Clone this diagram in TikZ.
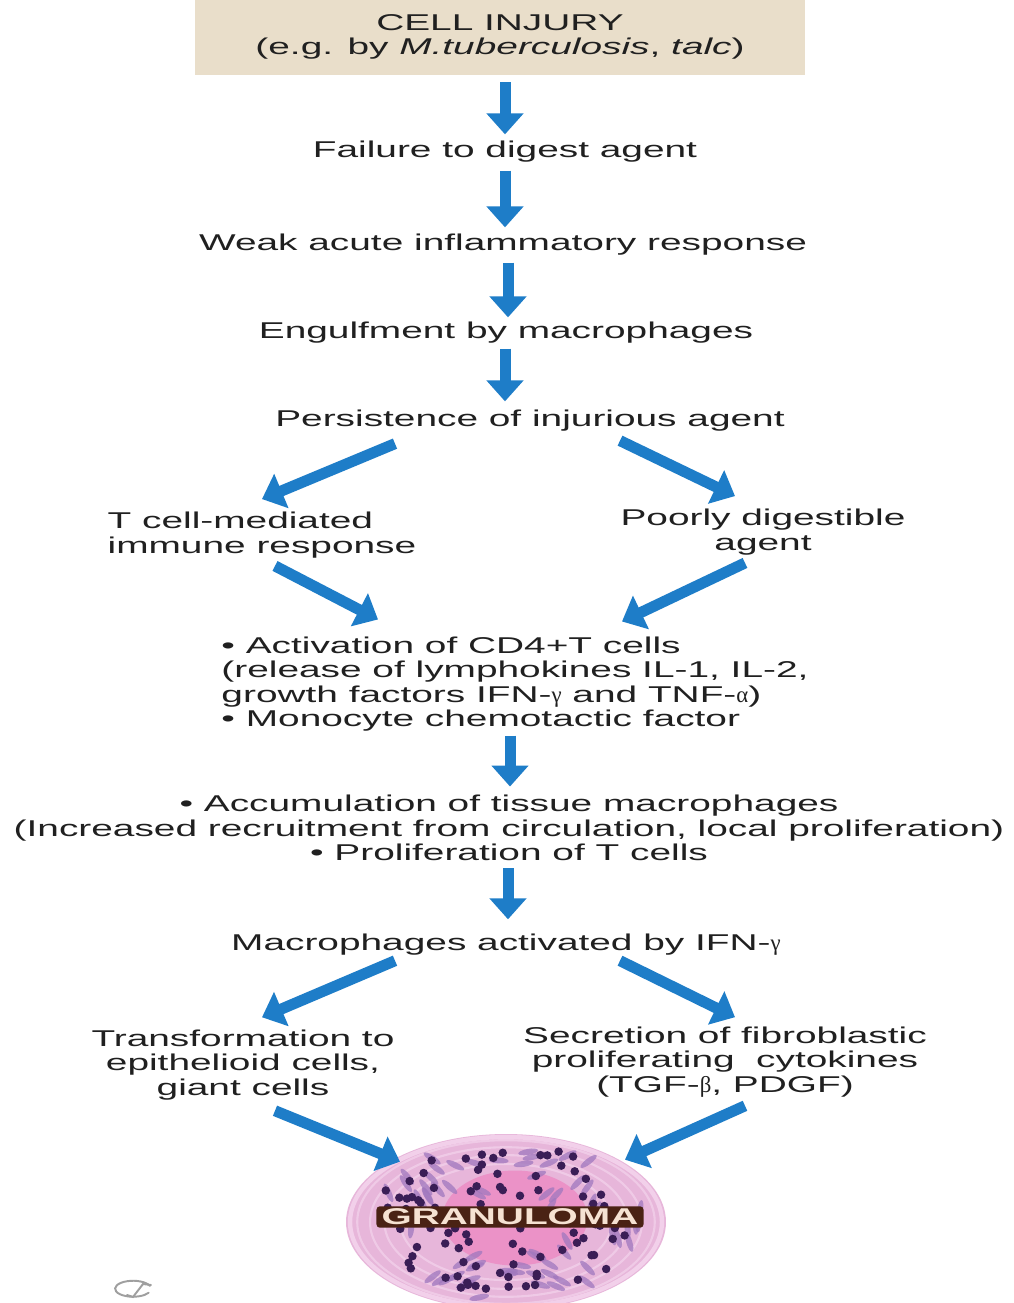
\documentclass[tikz,border=0pt]{standalone}
\usepackage{fontspec}
\setmainfont[FakeStretch=1.70]{Liberation Sans}
\newfontfamily\greekfont{Liberation Serif}
\newcommand{\grk}[1]{{\greekfont #1}}
\usetikzlibrary{arrows.meta,calc,shapes.geometric}

\definecolor{flowblue}{RGB}{30,125,200}
\definecolor{injbeige}{RGB}{233,222,202}
\definecolor{inktext}{RGB}{32,32,32}
\definecolor{granbase}{RGB}{231,182,218}
\definecolor{granring}{RGB}{242,208,234}
\definecolor{grancore}{RGB}{236,140,196}
\definecolor{granfiber}{RGB}{160,120,190}
\definecolor{grannuc}{RGB}{58,30,86}
\definecolor{labelbrown}{RGB}{74,34,20}
\definecolor{labelcream}{RGB}{246,226,210}

\begin{document}
\begin{tikzpicture}[x=0.02cm,y=-0.02cm,
  lbl/.style={inner sep=0pt, outer sep=0pt, text=inktext,
              font=\fontsize{13}{14}\selectfont, align=center},
  flow/.style={draw=flowblue, line width=0.22cm,
               -{Triangle[width=0.72cm,length=0.42cm]}},
]
\useasboundingbox (0,0) rectangle (1014,1303);
\clip (0,0) rectangle (1014,1303);
\fill[white] (0,0) rectangle (1014,1303);

% ---------- text nodes ----------
\node[lbl, fill=injbeige, minimum width=12.2cm, minimum height=1.5cm]
  (inj) at (500,37) {CELL INJURY\\(e.g. by \textit{M.tuberculosis}, \textit{talc})};
\node[lbl] (fail)  at (505,152) {Failure to digest agent};
\node[lbl] (weak)  at (503,245) {Weak acute inflammatory response};
\node[lbl] (eng)   at (506,333) {Engulfment by macrophages};
\node[lbl] (pers)  at (530,421) {Persistence of injurious agent};
\node[lbl, align=left] (tcell) at (262,535) {T cell-mediated\\immune response};
\node[lbl] (poor)  at (763,532) {Poorly digestible\\agent};
\node[lbl, align=left] (act) at (515,684)
  {• Activation of CD4+T cells\\
   (release of lymphokines IL-1, IL-2,\\
   growth factors IFN-\grk{γ} and TNF-\grk{α})\\
   • Monocyte chemotactic factor};
\node[lbl] (acc) at (509,828)
  {• Accumulation of tissue macrophages\\
   (Increased recruitment from circulation, local proliferation)\\
   • Proliferation of T cells};
\node[lbl] (macro) at (506,945) {Macrophages activated by IFN-\grk{γ}};
\node[lbl] (trans) at (243,1065) {Transformation to\\epithelioid cells,\\giant cells};
\node[lbl] (secr)  at (725,1062) {Secretion of fibroblastic\\proliferating\ \ cytokines\\(TGF-\grk{β}, PDGF)};

% ---------- granuloma ----------
\node[ellipse, minimum width=6.4cm, minimum height=3.52cm, inner sep=0pt] (gran) at (506,1222) {};
\fill[granbase] (gran.center) ellipse [x radius=3.2cm, y radius=1.76cm];
\draw[granring, line width=2.5pt] (gran.center) ellipse [x radius=3.12cm, y radius=1.70cm];
\foreach \f in {0.93,0.85,0.76,0.66}
  \draw[granring, line width=1.2pt, opacity=0.8] (gran.center) ellipse [x radius=3.2cm*\f, y radius=1.76cm*\f];
\fill[grancore, opacity=0.85] (515,1218) ellipse [x radius=1.45cm, y radius=0.95cm];
\pgfmathsetseed{11}
\foreach \i in {1,...,70}{
  \pgfmathsetmacro\ang{rnd*360}
  \pgfmathsetmacro\rr{0.3+0.62*sqrt(rnd)}
  \fill[granfiber, opacity=0.75, rotate around={\ang+90:({506+150*\rr*cos(\ang)},{1222+84*\rr*sin(\ang)})}]
    ({506+150*\rr*cos(\ang)},{1222+84*\rr*sin(\ang)}) ellipse [x radius=0.2cm, y radius=0.06cm];
}
\foreach \i in {1,...,100}{
  \pgfmathsetmacro\ang{rnd*360}
  \pgfmathsetmacro\rr{0.92*sqrt(rnd)}
  \fill[grannuc] ({506+150*\rr*cos(\ang)},{1222+84*\rr*sin(\ang)}) circle [radius=0.085cm];
}
\node[fill=labelbrown, rounded corners=2pt, text=labelcream, inner xsep=3pt, inner ysep=1.5pt,
      font=\fontsize{13}{14}\selectfont\bfseries] (granlbl) at (510,1217) {GRANULOMA};

% ---------- small pencil mark ----------
\draw[gray!75, line width=1.1pt, line cap=round]
  (150,1286) arc [start angle=20, end angle=330, x radius=0.36cm, y radius=0.16cm];
\draw[gray!75, line width=1.1pt, line cap=round] (127,1295) -- (133,1297) -- (143,1284) -- (151,1285);

% ---------- connectors ----------
\draw[flow] ($(inj.south)+(5,7.5)$)   -- ($(fail.north)+(0,-7)$);
\draw[flow] ($(fail.south)+(0,8)$)    -- ($(weak.north)+(2,-7)$);
\draw[flow] ($(weak.south)+(5,7)$)    -- ($(eng.north)+(2,-5)$);
\draw[flow] ($(eng.south)+(-1,5)$)    -- ($(pers.north)+(-25,-9)$);
\draw[flow] ($(pers.south)+(-135,12)$) -- ($(tcell.north)+(0,-13)$);
\draw[flow] ($(pers.south)+(90,9)$)   -- ($(poor.north)+(-28,-13)$);
\draw[flow] ($(tcell.south)+(13,8)$)  -- ($(act.north)+(-137,-17)$);
\draw[flow] ($(poor.south)+(-18,8)$)  -- ($(act.north)+(107,-15)$);
\draw[flow] ($(act.south)+(-5,4)$)    -- ($(acc.north)+(1,-8.5)$);
\draw[flow] ($(acc.south)+(-1,7.5)$)  -- ($(macro.north)+(2,-15)$);
\draw[flow] ($(macro.south)+(-111,5)$) -- ($(trans.north)+(19,-12.5)$);
\draw[flow] ($(macro.south)+(114,5)$) -- ($(secr.north)+(10,-9.5)$);
\draw[flow] ($(trans.south)+(32,10.5)$) -- ($(gran.north)+(-106,28)$);
\draw[flow] ($(secr.south)+(20,8.5)$) -- ($(gran.north)+(119,26)$);
\end{tikzpicture}
\end{document}
